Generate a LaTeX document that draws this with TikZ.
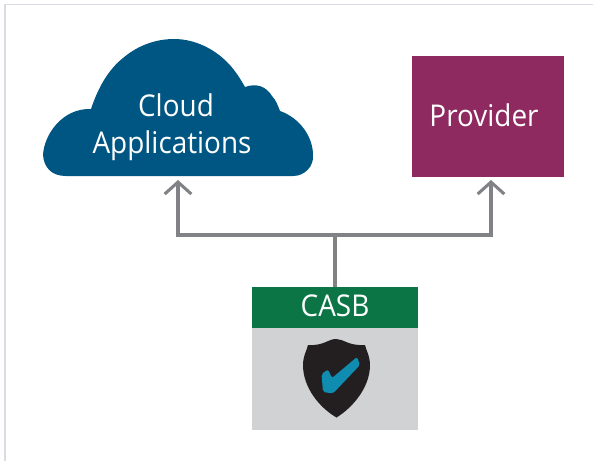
\documentclass[tikz,border=0pt]{standalone}
\usepackage{fontspec}
\usepackage{xcolor}
\usetikzlibrary{arrows.meta}
\setmainfont[FakeStretch=0.93]{Open Sans}
\definecolor{cloudblue}{HTML}{005682}
\definecolor{providerpurple}{HTML}{8F2A60}
\definecolor{casbgreen}{HTML}{0B7546}
\definecolor{casbgray}{HTML}{D1D2D3}
\definecolor{linkgray}{HTML}{808285}
\definecolor{framegray}{HTML}{D9DCE3}
\definecolor{tickblue}{HTML}{0F8CB0}
\definecolor{shieldblack}{HTML}{231F20}
\tikzset{
    label/.style={text=white, font=\fontsize{22.5}{28}\selectfont, align=center, inner sep=0pt},
    link/.style={linkgray, line width=2.3pt, -{Straight Barb[length=9pt,width=20pt]}},
    trunk/.style={linkgray, line width=2.3pt}
}

\begin{document}
\begin{tikzpicture}[x=0.75pt, y=-0.75pt]

    \useasboundingbox (0,0) rectangle (593,461);

    % Draw the frame
    \draw[framegray, line width=1pt] (5,461) -- (5,4.5) -- (593,4.5);

    % Draw the cloud
    \fill[cloudblue] (66,176)
        .. controls (52,176) and (44,168) .. (43,155)
        .. controls (44,135) and (62,108) .. (91,109)
        .. controls (98,88) and (108,70) .. (123,58)
        .. controls (137,46) and (155,39) .. (174,39)
        .. controls (195,39) and (214,49) .. (227,62)
        .. controls (234,69) and (240,78) .. (245,87)
        .. controls (256,83) and (266,86) .. (272,96)
        .. controls (276,100) and (278,106) .. (280,111)
        .. controls (300,118) and (313,137) .. (313,155)
        .. controls (314,166) and (305,176) .. (293,176)
        -- cycle;
    \node[label] (cloud) at (172,127) {\hspace*{6pt}Cloud\\Applications};

    % Draw the provider box
    \fill[providerpurple] (412,56) rectangle (564,177);
    \node[label] (provider) at (484,115) {Provider};

    % Draw the CASB box
    \fill[casbgray] (252,328) rectangle (418,430);
    \fill[casbgreen] (252,287) rectangle (418,328);
    \node[label] (casb) at (335,306) {CASB};

    % Draw the shield
    \fill[shieldblack] (336,339)
        .. controls (344,339) and (348,346) .. (365,345)
        .. controls (366,350) and (370,356) .. (370,365)
        .. controls (370,388) and (352,408) .. (336.5,417.5)
        .. controls (320,408) and (303,388) .. (303,365)
        .. controls (303,356) and (307,350) .. (308,345)
        .. controls (324,346) and (328,339) .. (336,339)
        -- cycle;
    \fill[tickblue, rounded corners=1.5pt] (321.5,374) -- (328,369.5) -- (332,378)
        -- (357,357) -- (360,365) -- (333,393.5) -- (323,392) -- cycle;

    % Draw the connectors
    \coordinate (hub) at (335,235);
    \coordinate (casbtop) at (335,287);
    \coordinate (cloudport) at (178,180);
    \coordinate (providerport) at (491,180);
    \draw[trunk] (casbtop) -- (hub);
    \draw[link] (hub) -| (cloudport);
    \draw[link] (hub) -| (providerport);

\end{tikzpicture}
\end{document}
